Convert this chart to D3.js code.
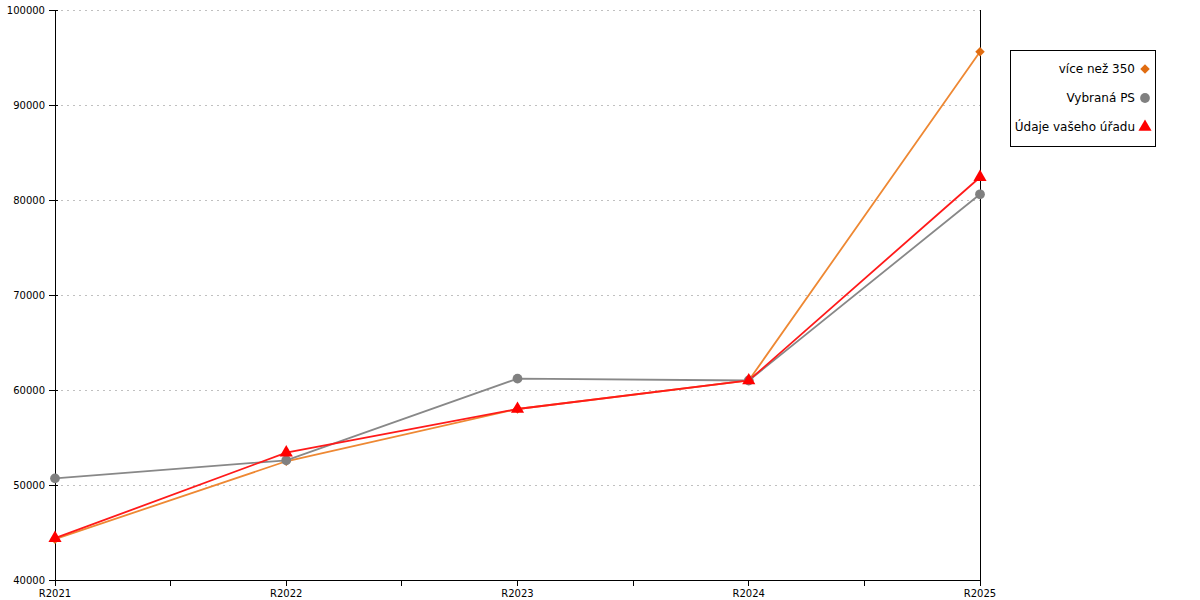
<!DOCTYPE html>
<html>
<head>
<meta charset="utf-8">
<script src="https://cdn.jsdelivr.net/npm/d3@7"></script>
<style>
  body { margin: 0; background: #fff; }
  text { font-family: "DejaVu Sans", sans-serif; }
  .crisp line { shape-rendering: crispEdges; }
</style>
</head>
<body>
<div id="chart"></div>
<script>
// Data
var categories = ["R2021", "R2022", "R2023", "R2024", "R2025"];
var vice350 = [44300, 52500, 58000, 61000, 95600];
var vybranaPS = [50700, 52600, 61200, 61000, 80600];
var vasUrad = [44400, 53400, 58000, 61000, 82400];
var yTicks = [40000, 50000, 60000, 70000, 80000, 90000, 100000];
var seriesNames = ["více než 350", "Vybraná PS", "Údaje vašeho úřadu"];

var svgWidth = 1200;
var svgHeight = 600;
var margin = { top: 10, right: 220, bottom: 20, left: 55 };
var width = svgWidth - margin.left - margin.right;
var height = svgHeight - margin.top - margin.bottom;

var svg = d3.select("#chart")
  .append("svg")
  .attr("width", svgWidth)
  .attr("height", svgHeight);

var chartGroup = svg.append("g")
  .attr("transform", `translate(${margin.left}, ${margin.top})`);

var xScale = d3.scalePoint().domain(categories).range([0, width]);
var yScale = d3.scaleLinear().domain([40000, 100000]).range([height, 0]);

// gridlines
chartGroup.append("g")
  .attr("class", "crisp")
  .selectAll("line")
  .data(yTicks.slice(1))
  .enter()
  .append("line")
  .attr("x1", 0)
  .attr("x2", width)
  .attr("y1", d => yScale(d))
  .attr("y2", d => yScale(d))
  .attr("stroke", "#c0c0c0")
  .attr("stroke-dasharray", "2,4");

// left axis
var leftAxis = d3.axisLeft(yScale).tickValues(yTicks).tickSize(6).tickPadding(4).tickFormat(d3.format("d"));
var yAxisG = chartGroup.append("g").attr("class", "crisp").call(leftAxis);
yAxisG.select(".domain").remove();
yAxisG.selectAll(".tick line").attr("x1", 3).attr("x2", -6).attr("stroke", "#000");
yAxisG.selectAll("text").style("font-size", "10px").attr("fill", "#000");
yAxisG.append("line")
  .attr("x1", 0).attr("x2", 0).attr("y1", 0).attr("y2", height)
  .attr("stroke", "#000");

// bottom axis with minor ticks between categories
var step = xScale.step();
var minorTicks = categories.slice(1).map(c => xScale(c) - step / 2);
var xAxisG = chartGroup.append("g").attr("class", "crisp").attr("transform", `translate(0, ${height})`);
xAxisG.append("line").attr("x1", 0).attr("x2", width).attr("stroke", "#000");
xAxisG.selectAll(".major")
  .data(categories)
  .enter()
  .append("line")
  .attr("class", "major")
  .attr("x1", d => xScale(d)).attr("x2", d => xScale(d))
  .attr("y1", 0).attr("y2", 6)
  .attr("stroke", "#000");
xAxisG.selectAll(".minor")
  .data(minorTicks)
  .enter()
  .append("line")
  .attr("class", "minor")
  .attr("x1", d => d).attr("x2", d => d)
  .attr("y1", 0).attr("y2", 6)
  .attr("stroke", "#000");
xAxisG.selectAll(".label")
  .data(categories)
  .enter()
  .append("text")
  .attr("class", "label")
  .attr("x", d => xScale(d))
  .attr("y", 17)
  .attr("text-anchor", "middle")
  .style("font-size", "10px")
  .text(d => d);

// right vertical line
chartGroup.append("g").attr("class", "crisp")
  .append("line")
  .attr("x1", width).attr("x2", width).attr("y1", 0).attr("y2", height)
  .attr("stroke", "#000");

var series = [
  { name: seriesNames[0], values: vice350, line: "#ee8833", mark: "#e06c10", symbol: d3.symbolSquare, size: 45, rot: 45 },
  { name: seriesNames[1], values: vybranaPS, line: "#888888", mark: "#808080", symbol: d3.symbolCircle, size: 75, rot: 0 },
  { name: seriesNames[2], values: vasUrad, line: "#ff1a1a", mark: "#ff0000", symbol: d3.symbolTriangle, size: 75, rot: 0 }
];

var line = d3.line()
  .x((d, i) => xScale(categories[i]))
  .y(d => yScale(d));

series.forEach(function(s) {
  chartGroup.append("path")
    .datum(s.values)
    .attr("d", line)
    .attr("fill", "none")
    .attr("stroke", s.line)
    .attr("stroke-width", 1.8);
});

series.forEach(function(s) {
  chartGroup.selectAll(null)
    .data(s.values)
    .enter()
    .append("path")
    .attr("d", d3.symbol().type(s.symbol).size(s.size))
    .attr("transform", (d, i) => `translate(${xScale(categories[i])}, ${yScale(d)}) rotate(${s.rot})`)
    .attr("fill", s.mark);
});

// legend
var legend = svg.append("g").attr("transform", "translate(1010, 50)");
legend.append("rect")
  .attr("x", 0.5).attr("y", 0.5)
  .attr("width", 145).attr("height", 96)
  .attr("fill", "#fff")
  .attr("stroke", "#000");
series.forEach(function(s, i) {
  var y = 19 + i * 29;
  legend.append("text")
    .attr("x", 125)
    .attr("y", y)
    .attr("dy", "0.35em")
    .attr("text-anchor", "end")
    .style("font-size", "12px")
    .text(s.name);
  legend.append("path")
    .attr("d", d3.symbol().type(s.symbol).size(s.size))
    .attr("transform", `translate(135, ${y}) rotate(${s.rot})`)
    .attr("fill", s.mark);
});
</script>
</body>
</html>
